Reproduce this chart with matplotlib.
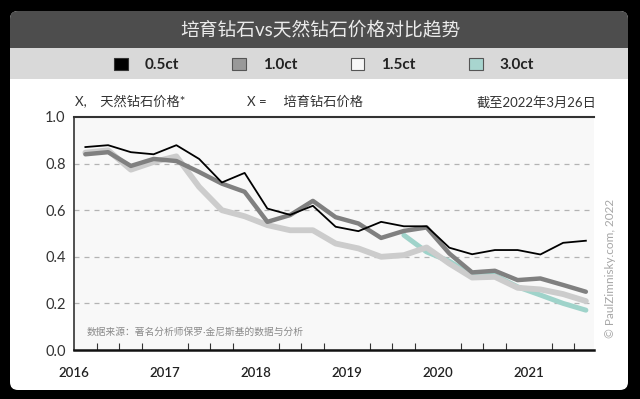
import matplotlib
matplotlib.use("Agg")
import matplotlib.pyplot as plt
from matplotlib.patches import FancyBboxPatch, Patch
from matplotlib.transforms import IdentityTransform
from matplotlib.ticker import MultipleLocator, FixedLocator

plt.rcParams['font.family'] = ['Lato', 'Noto Sans CJK SC', 'DejaVu Sans']

# ---------------- data ----------------
dates = [2016.125, 2016.375, 2016.625, 2016.875,
         2017.125, 2017.375, 2017.625, 2017.875,
         2018.125, 2018.375, 2018.625, 2018.875,
         2019.125, 2019.375, 2019.625, 2019.875,
         2020.125, 2020.375, 2020.625, 2020.875,
         2021.125, 2021.375, 2021.625]
ct05 = [0.871, 0.879, 0.849, 0.840, 0.879, 0.820, 0.719, 0.760, 0.607, 0.580,
        0.619, 0.529, 0.510, 0.550, 0.531, 0.531, 0.439, 0.411, 0.429, 0.429,
        0.410, 0.460, 0.469]
ct10 = [0.840, 0.849, 0.790, 0.820, 0.811, 0.764, 0.714, 0.679, 0.550, 0.579,
        0.640, 0.570, 0.543, 0.481, 0.511, 0.526, 0.414, 0.333, 0.340, 0.300,
        0.307, 0.279, 0.250]
ct15 = [0.847, 0.857, 0.774, 0.807, 0.831, 0.700, 0.600, 0.574, 0.536, 0.514,
        0.514, 0.457, 0.436, 0.400, 0.407, 0.440, 0.371, 0.311, 0.314, 0.267,
        0.260, 0.240, 0.210]
dates30 = [2019.625, 2019.875, 2020.125, 2020.375, 2020.625, 2020.875,
           2021.125, 2021.375, 2021.625]
ct30 = [0.493, 0.421, 0.381, 0.321, 0.321, 0.271, 0.236, 0.200, 0.171]

series_names = ['0.5ct', '1.0ct', '1.5ct', '3.0ct']
year_ticks = [2016, 2017, 2018, 2019, 2020, 2021]
y_ticks = [0.0, 0.2, 0.4, 0.6, 0.8, 1.0]

title = '培育钻石vs天然钻石价格对比趋势'
label_left = 'X,    天然钻石价格*'
label_mid = 'X =     培育钻石价格'
label_right = '截至2022年3月26日'
source = '数据来源：著名分析师保罗·金尼斯基的数据与分析'
credit = '© PaulZimnisky.com, 2022'

# ---------------- figure ----------------
W, H = 640, 399
fig = plt.figure(figsize=(W / 100, H / 100), dpi=100, facecolor='black')

def box(x0, ytop, w, h, color, rs=0, zorder=0):
    p = FancyBboxPatch((x0, H - ytop - h), w, h,
                       boxstyle=f"round,pad=0,rounding_size={rs}",
                       transform=IdentityTransform(), facecolor=color,
                       edgecolor='none', zorder=zorder)
    fig.add_artist(p)
    return p

# white panel
box(10, 11, 618, 379, 'white', rs=8, zorder=-3)
# title bar (rounded top) + square bottom
box(10, 11, 618, 36, '#4d4d4d', rs=8, zorder=-2)
box(10, 30, 618, 18, '#4d4d4d', rs=0, zorder=-2)
# legend band
box(10, 48, 618, 31, '#d9d9d9', rs=0, zorder=-2)

fig.text(320 / W, 1 - 29 / H, title, ha='center', va='center',
         color='#ebebeb', fontsize=13.5)

# legend
handles = [Patch(facecolor='#000000', edgecolor='#333333', linewidth=0.8),
           Patch(facecolor='#999999', edgecolor='#555555', linewidth=0.8),
           Patch(facecolor='#f7f7f7', edgecolor='#555555', linewidth=0.8),
           Patch(facecolor='#a8d5cf', edgecolor='#555555', linewidth=0.8)]
leg = fig.legend(handles, series_names, loc='center', ncol=4,
                 bbox_to_anchor=(324 / W, 1 - 65 / H), frameon=False,
                 handlelength=0.9, handleheight=0.9, handletextpad=1.1,
                 columnspacing=3.5, prop={'size': 11, 'weight': 'bold'})
for t in leg.get_texts():
    t.set_color('#222222')

# ---------------- axes ----------------
ax = fig.add_axes([74 / W, 1 - 350 / H, 520 / W, 233 / H])
ax.set_facecolor('#f8f8f8')

ax.plot(dates30, ct30, color='#9fd3ca', lw=3.6, solid_capstyle='round',
        solid_joinstyle='round', zorder=3)
ax.plot(dates, ct15, color='#cccccc', lw=4.2, solid_capstyle='round',
        solid_joinstyle='round', zorder=4)
ax.plot(dates, ct10, color='#808080', lw=3.2, solid_capstyle='round',
        solid_joinstyle='round', zorder=5)
ax.plot(dates, ct05, color='#000000', lw=1.3, zorder=6)

ax.set_xlim(2016, 2016 + 520 / 91)
ax.set_ylim(0, 1.0)

for yv in y_ticks[1:-1]:
    ax.axhline(yv, color='#b3b3b3', lw=0.9, ls=(0, (4, 4)), zorder=1)

ax.set_yticks(y_ticks)
ax.set_yticklabels([f'{v:.1f}' for v in y_ticks])
ax.tick_params(axis='y', length=0, pad=6, labelsize=10.5, labelcolor='#333333')

ax.xaxis.set_major_locator(FixedLocator(year_ticks))
ax.xaxis.set_minor_locator(MultipleLocator(0.25))
ax.set_xticklabels([str(y) for y in year_ticks])
ax.tick_params(axis='x', which='major', length=0, pad=12, labelsize=9.5,
               labelcolor='#222222')
for lab in ax.get_xticklabels():
    lab.set_fontweight('semibold')
ax.tick_params(axis='x', which='minor', direction='in', length=5,
               width=0.8, color='#333333')

ax.spines['right'].set_visible(False)
ax.spines['left'].set_color('#333333')
ax.spines['left'].set_linewidth(1.2)
ax.spines['bottom'].set_color('#111111')
ax.spines['bottom'].set_linewidth(1.8)
ax.spines['top'].set_color('#333333')
ax.spines['top'].set_linewidth(1.5)

# header labels above axes
fig.text(75 / W, 1 - 102 / H, label_left, ha='left', va='center',
         fontsize=9.5, color='#333333')
fig.text(247 / W, 1 - 102 / H, label_mid, ha='left', va='center',
         fontsize=9.5, color='#333333')
fig.text(596 / W, 1 - 102 / H, label_right, ha='right', va='center',
         fontsize=9.5, color='#333333')

fig.text(87 / W, 1 - 332 / H, source, ha='left', va='center',
         fontsize=7, color='#8a8a8a')

fig.text(610 / W, 1 - 268 / H, credit, rotation=90, ha='center',
         va='center', fontsize=8.5, color='#a6a6a6')

fig.savefig('out.png', dpi=100, facecolor='black')
